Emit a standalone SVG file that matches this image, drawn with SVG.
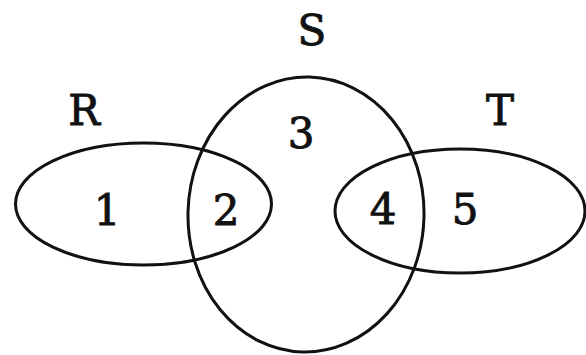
<svg xmlns="http://www.w3.org/2000/svg" width="586" height="355" viewBox="0 0 586 355">
<style>
.set{fill:none;stroke:#111;stroke-width:3}
.lbl{font-family:"DejaVu Serif","Liberation Serif",serif;font-size:42px;fill:#111;stroke:#111;stroke-width:0.9;text-anchor:middle}
</style>
<rect width="586" height="355" fill="#fff"/>
<g id="R">
<ellipse class="set" cx="143.5" cy="204" rx="128" ry="61"/>
<text class="lbl" x="84" y="125">R</text>
<text class="lbl" x="107" y="225">1</text>
</g>
<g id="S">
<ellipse class="set" cx="306" cy="214.5" rx="118" ry="137.5" transform="rotate(1.5 306 214.5)"/>
<text class="lbl" x="312" y="45">S</text>
<text class="lbl" x="301" y="148">3</text>
<text class="lbl" x="226" y="225">2</text>
<text class="lbl" x="383" y="224">4</text>
</g>
<g id="T">
<ellipse class="set" cx="460" cy="211" rx="125" ry="62"/>
<text class="lbl" x="500" y="125">T</text>
<text class="lbl" x="465" y="224">5</text>
</g>
<g id="connectors"/>
</svg>
